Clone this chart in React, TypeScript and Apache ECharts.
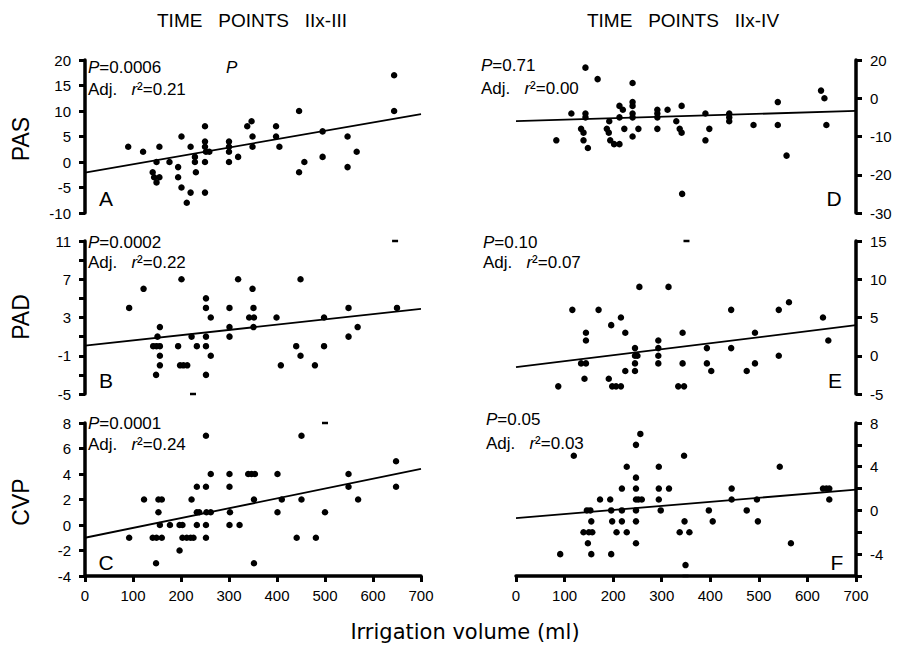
import React, { useEffect, useRef } from "react";
import * as echarts from "echarts";

// ---- Data (x = irrigation volume in ml, y = change) ----
const xTicks = [0, 100, 200, 300, 400, 500, 600, 700];

const pasIIxIII: [number, number][] = [
  [90, 3], [121, 2], [155, 3], [149, 0], [141, -2], [144, -3], [149, -4], [155, -3],
  [176, 0], [194, -1], [194, -3], [201, -5], [212, -8], [220, -6], [201, 5], [220, 3],
  [229, 1], [229, 0], [231, -2], [250, 7], [250, 4], [250, 3], [252, 2], [250, 0],
  [250, -6], [259, 2], [300, 4], [300, 3], [300, 2], [300, 0], [319, 1], [338, 7],
  [347, 8], [349, 5], [349, 3], [398, 7], [398, 5], [405, 3], [446, 10], [446, -2],
  [457, 0], [495, 6], [495, 1], [547, 5], [547, -1], [566, 2], [644, 17], [644, 10],
];
const padIIxIII: [number, number][] = [
  [92, 4], [122, 6], [201, 7], [156, 2], [151, 1], [142, 0], [149, 0], [156, 0],
  [156, -1], [156, -2], [148, -3], [194, 0], [198, -2], [205, -2], [213, -2], [222, 1],
  [233, 0], [252, 5], [252, 4], [252, 1], [252, 0], [262, -1], [252, -3], [262, 3],
  [301, 4], [301, 2], [301, 1], [319, 7], [349, 6], [342, 3], [352, 3], [351, 4],
  [351, 2], [399, 3], [408, -2], [440, 0], [449, -1], [449, 7], [479, -2], [498, 3],
  [498, 0], [549, 4], [549, 1], [568, 2], [650, 4],
];
const padIIxIIIClipped: [number, number][] = [[225, -5], [646, 11]];
const cvpIIxIII: [number, number][] = [
  [92, -1], [123, 2], [141, -1], [149, -1], [160, -1], [148, -3], [153, 1], [153, 2],
  [160, 2], [156, 0], [177, 0], [197, 0], [203, 0], [197, -2], [203, -1], [212, -1],
  [220, -1], [226, -1], [222, 2], [233, 3], [233, 1], [238, 1], [233, 0], [252, 7],
  [252, 3], [253, 1], [262, 1], [252, 0], [252, -1], [262, 4], [301, 4], [301, 3],
  [302, 1], [301, 0], [322, 0], [340, 4], [347, 4], [354, 4], [352, 2], [352, -3],
  [401, 4], [401, 1], [410, 2], [441, -1], [451, 7], [451, 2], [481, -1], [500, 1],
  [549, 4], [549, 3], [569, 2], [648, 5], [648, 3],
];
const cvpIIxIIIClipped: [number, number][] = [[500, 8]];

const pasIIxIV: [number, number][] = [
  [143, 8], [168, 5], [240, 4], [83, -11], [114, -4], [143, -4], [143, -5], [134, -8],
  [139, -9], [139, -11], [148, -13], [187, -8], [191, -9], [194, -11], [202, -12],
  [213, -12], [192, -6], [213, -5], [213, -2], [220, -3], [223, -8], [240, -1],
  [240, -2], [240, -4], [240, -5], [240, -10], [252, -8], [291, -3], [291, -4],
  [291, -5], [291, -8], [312, -3], [330, -6], [337, -8], [341, -9], [341, -2],
  [342, -25], [390, -4], [390, -11], [398, -8], [439, -4], [439, -5], [439, -6],
  [489, -7], [539, -1], [539, -7], [557, -15], [628, 2], [635, 0], [639, -7],
];
const padIIxIV: [number, number][] = [
  [116, 6], [170, 6], [196, 4], [216, 5], [254, 9], [314, 9], [144, 3], [144, 2],
  [134, -1], [144, -1], [141, -3], [87, -4], [191, -3], [198, -4], [206, -4], [216, -4],
  [225, -2], [225, 3], [245, 1], [245, 0], [250, 0], [245, -1], [245, -2], [293, 2],
  [293, 1], [293, 0], [293, -1], [343, 3], [343, -1], [334, -4], [346, -4], [393, 1],
  [393, -1], [402, -2], [443, 6], [443, 1], [475, -2], [492, -1], [492, 3], [541, 6],
  [562, 7], [541, 0], [632, 5], [643, 2],
];
const padIIxIVClipped: [number, number][] = [[351, 15]];
const cvpIIxIV: [number, number][] = [
  [91, -4], [119, 5], [146, 0], [153, 0], [139, -2], [150, -2], [157, -2], [155, -1],
  [148, -3], [155, -4], [173, 1], [194, 1], [196, 0], [198, -1], [196, -4], [207, -2],
  [228, -2], [218, 0], [218, -1], [218, 2], [228, 4], [247, 6], [256, 7], [247, 3],
  [247, 2], [247, 1], [252, 1], [259, 1], [247, 0], [247, -1], [247, -3], [294, 4],
  [294, 2], [315, 2], [294, 1], [298, 0], [346, 5], [347, -1], [337, -2], [357, -2],
  [349, -5], [397, 0], [405, -1], [444, 2], [444, 1], [475, 0], [496, 1], [498, -1],
  [543, 4], [566, -3], [632, 2], [639, 2], [645, 2], [645, 1],
];
const cvpIIxIVClipped: [number, number][] = [[349, -6]];

// regression lines (endpoints at 0 and 700 ml)
const fitPasIII: [number, number][] = [[0, -2.1], [700, 9.4]];
const fitPadIII: [number, number][] = [[0, 0.05], [700, 3.9]];
const fitCvpIII: [number, number][] = [[0, -1.0], [700, 4.4]];
const fitPasIV: [number, number][] = [[0, -6.0], [700, -3.3]];
const fitPadIV: [number, number][] = [[0, -1.5], [700, 4.0]];
const fitCvpIV: [number, number][] = [[0, -0.7], [700, 1.9]];

const pValues = ["0.0006", "0.0002", "0.0001", "0.71", "0.10", "0.05"];
const r2Values = ["0.21", "0.22", "0.24", "0.00", "0.07", "0.03"];
const panelLetters = ["A", "B", "C", "D", "E", "F"];
const rowNames = ["PAS", "PAD", "CVP"];
const columnTitles = ["TIME   POINTS   IIx-III", "TIME   POINTS   IIx-IV"];
const xAxisName = "Irrigation volume (ml)";

// y axis ranges: [min, max, interval]
const yRanges: [number, number, number][] = [
  [-10, 20, 5],
  [-5, 11, 2],
  [-4, 8, 2],
  [-30, 10, 10],
  [-5, 15, 5],
  [-6, 8, 2],
];
// D's top tick is printed as "20" in the source figure
const dTopLabel = "20";

const FONT = "'Liberation Sans', Arial, Helvetica, sans-serif";
const WIDE = "'DejaVu Sans', 'Liberation Sans', sans-serif";
const INK = "#000000";

export default function App() {
  const ref = useRef<HTMLDivElement>(null);
  useEffect(() => {
    if (!ref.current) return;
    const chart = echarts.init(ref.current, null, { renderer: "svg" });

    const lefts = [85, 85, 85, 516, 516, 516];
    const widths = [336, 336, 336, 340, 340, 340];
    const tops = [60, 241, 423, 60, 241, 423];
    const grids = lefts.map((l, i) => ({ left: l, top: tops[i], width: widths[i], height: 153 }));

    const formatters: ((v: number) => string)[] = [
      (v) => String(v),
      (v) => ((v + 5) % 4 === 0 ? String(v) : ""),
      (v) => String(v),
      (v) => (v === 10 ? dTopLabel : String(v)),
      (v) => String(v),
      (v) => (v % 4 === 0 ? String(v) : ""),
    ];

    const axisLineStyle = { color: INK, width: 3.5 };
    const tickStyle = { color: INK, width: 3 };
    const yAxes = yRanges.map(([mn, mx, iv], i) => ({
      type: "value",
      gridIndex: i,
      min: mn,
      max: mx,
      interval: iv,
      position: i < 3 ? "left" : "right",
      axisLine: { show: true, onZero: false, lineStyle: axisLineStyle },
      axisTick: { show: true, length: 6, lineStyle: tickStyle },
      axisLabel: {
        fontSize: 15,
        fontFamily: FONT,
        color: INK,
        margin: 14,
        formatter: formatters[i],
      },
      splitLine: { show: false },
    }));
    const xAxes = grids.map((_, i) => {
      const bottom = i === 2 || i === 5;
      return {
        type: "value",
        gridIndex: i,
        min: xTicks[0],
        max: xTicks[xTicks.length - 1],
        interval: xTicks[1] - xTicks[0],
        show: bottom,
        axisLine: { show: bottom, onZero: false, lineStyle: axisLineStyle },
        axisTick: { show: bottom, length: 6, lineStyle: tickStyle },
        axisLabel: { show: bottom, fontSize: 15, fontFamily: FONT, color: INK, margin: 12 },
        splitLine: { show: false },
      };
    });

    const pts = [pasIIxIII, padIIxIII, cvpIIxIII, pasIIxIV, padIIxIV, cvpIIxIV];
    const clipped = [[], padIIxIIIClipped, cvpIIxIIIClipped, [], padIIxIVClipped, cvpIIxIVClipped];
    const fits = [fitPasIII, fitPadIII, fitCvpIII, fitPasIV, fitPadIV, fitCvpIV];

    const series: any[] = [];
    pts.forEach((d, i) => {
      series.push({
        type: "scatter",
        xAxisIndex: i,
        yAxisIndex: i,
        data: d,
        symbol: "circle",
        symbolSize: 6.5,
        itemStyle: { color: INK, opacity: 1 },
      });
      series.push({
        type: "line",
        xAxisIndex: i,
        yAxisIndex: i,
        data: fits[i],
        showSymbol: false,
        lineStyle: { color: INK, width: 1.8 },
      });
      if (clipped[i].length) {
        series.push({
          type: "scatter",
          xAxisIndex: i,
          yAxisIndex: i,
          data: clipped[i],
          symbol: "rect",
          symbolSize: [6, 2.5],
          clip: false,
          itemStyle: { color: INK, opacity: 1 },
        });
      }
    });

    const graphics: any[] = [];
    const colCenters = [252, 683];
    columnTitles.forEach((t, i) =>
      graphics.push({
        type: "text",
        x: colCenters[i],
        y: 20,
        style: { text: t, font: `19px ${FONT}`, fill: INK, align: "center", verticalAlign: "middle" },
      })
    );
    const nameY = [139, 317, 502];
    rowNames.forEach((n, i) =>
      graphics.push({
        type: "text",
        x: 21,
        y: nameY[i],
        rotation: Math.PI / 2,
        style: { text: n, font: `23px ${FONT}`, fill: INK, align: "center", verticalAlign: "middle" },
      })
    );
    const letterPos: [number, number][] = [
      [106, 198], [106, 380], [106, 562], [834, 198], [835, 380], [837, 562],
    ];
    panelLetters.forEach((l, i) =>
      graphics.push({
        type: "text",
        x: letterPos[i][0],
        y: letterPos[i][1],
        style: { text: l, font: `21px ${FONT}`, fill: INK, align: "center", verticalAlign: "middle" },
      })
    );
    const statX = [88, 88, 88, 481, 483, 486];
    const statPY = [67, 242, 423, 65, 242, 419];
    const statRY = [89, 262, 444, 88, 262, 443];
    const rich = { i: { fontStyle: "italic", fontSize: 17, fontFamily: FONT, fill: INK } };
    pValues.forEach((p, i) => {
      graphics.push({
        type: "text",
        x: statX[i],
        y: statPY[i],
        style: {
          text: `{i|P}=${p}`,
          font: `17px ${FONT}`,
          fill: INK,
          verticalAlign: "middle",
          rich,
        },
      });
      graphics.push({
        type: "text",
        x: statX[i],
        y: statRY[i],
        style: {
          text: `Adj.   {i|r}²=${r2Values[i]}`,
          font: `17px ${FONT}`,
          fill: INK,
          verticalAlign: "middle",
          rich,
        },
      });
    });
    graphics.push({
      type: "text",
      x: 226,
      y: 67,
      style: { text: "P", font: `italic 17px ${FONT}`, fill: INK, verticalAlign: "middle" },
    });
    graphics.push({
      type: "text",
      x: 465,
      y: 632,
      style: { text: xAxisName, font: `21px ${WIDE}`, fill: INK, align: "center", verticalAlign: "middle" },
    });

    chart.setOption({
      animation: false,
      backgroundColor: "#ffffff",
      grid: grids,
      xAxis: xAxes,
      yAxis: yAxes,
      series,
      graphic: graphics,
    });
    return () => chart.dispose();
  }, []);

  return <div ref={ref} style={{ width: 904, height: 646, position: "absolute", left: 0, top: 0 }} />;
}
